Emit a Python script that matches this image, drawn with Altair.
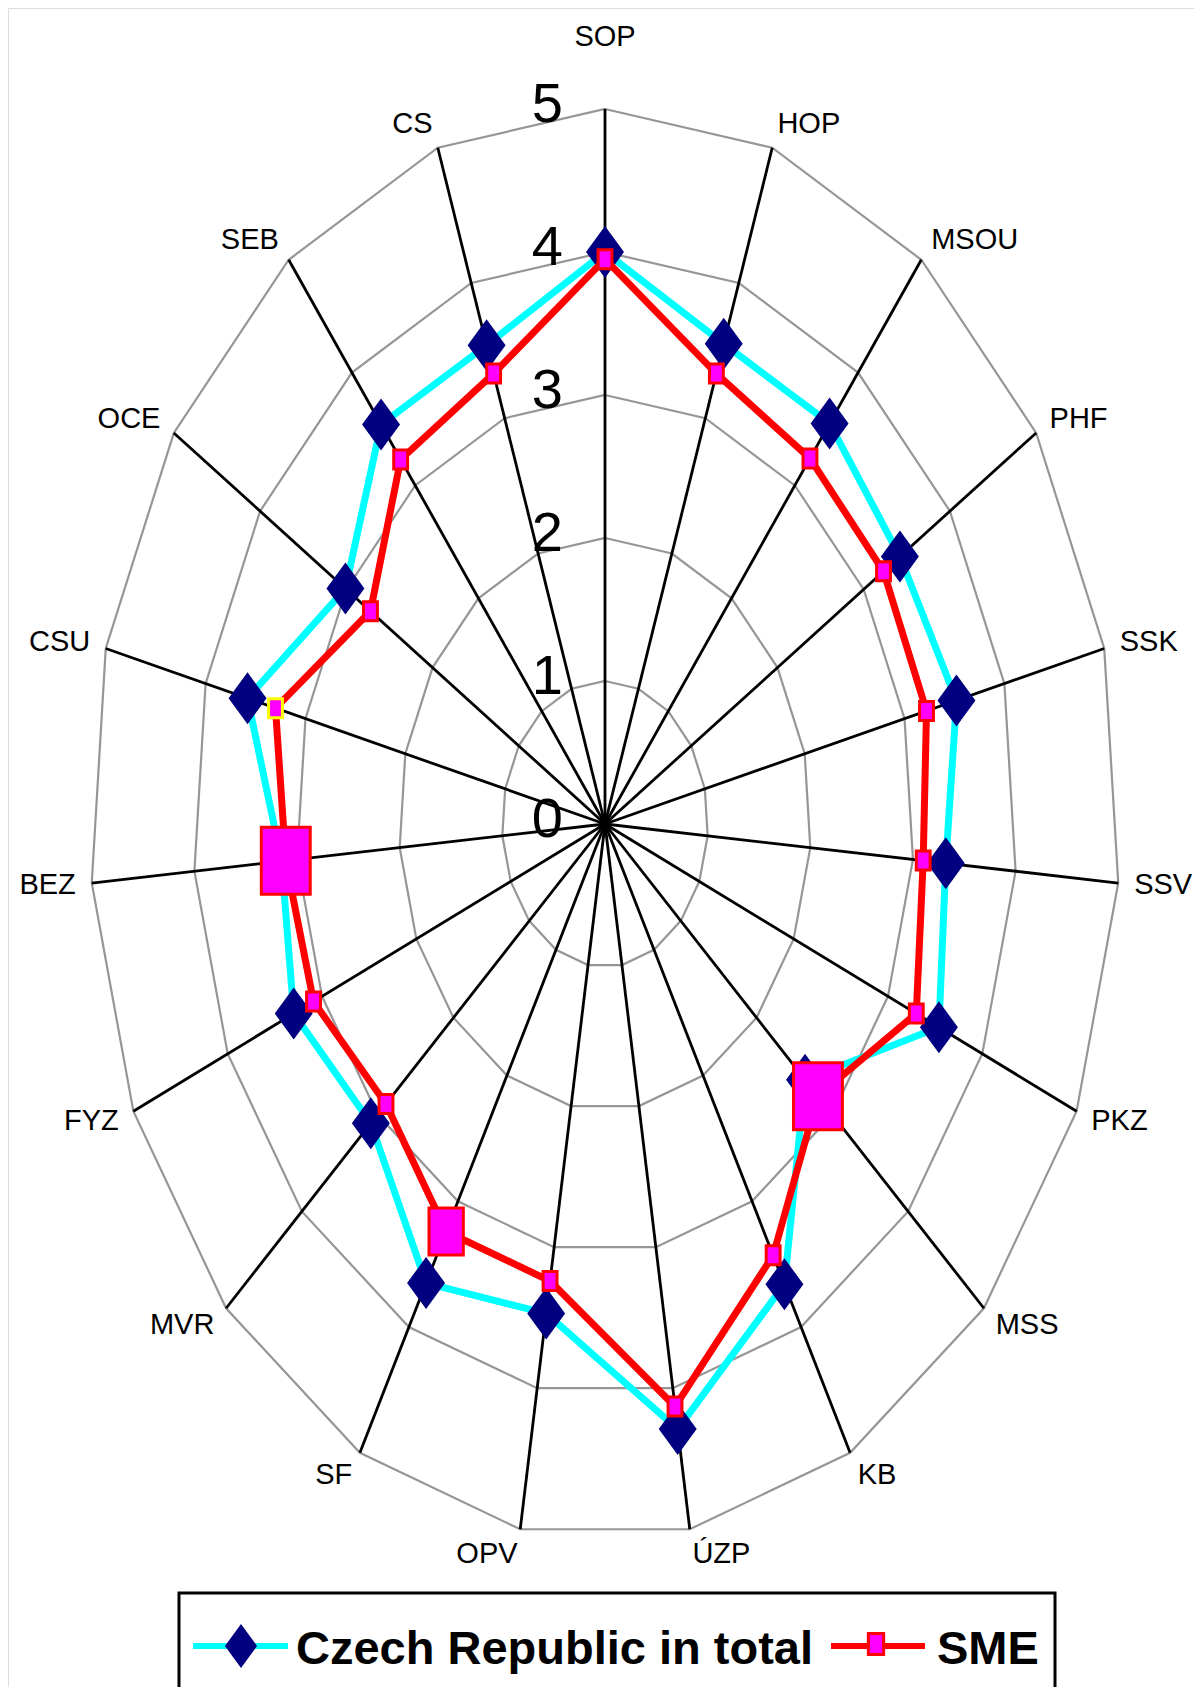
import altair as alt
import pandas as pd

# ---------------- data ----------------
categories = ["SOP", "HOP", "MSOU", "PHF", "SSK", "SSV", "PKZ", "MSS", "KB", "ÚZP",
              "OPV", "SF", "MVR", "FYZ", "BEZ", "CSU", "OCE", "SEB", "CS"]
czech_total = [4.00, 3.55, 3.55, 3.42, 3.52, 3.32, 3.54, 2.64, 3.66, 4.29,
               3.47, 3.65, 3.09, 3.30, 3.15, 3.58, 3.01, 3.54, 3.54]
sme = [3.95, 3.33, 3.24, 3.23, 3.22, 3.10, 3.30, 2.81, 3.43, 4.13,
       3.24, 3.24, 2.89, 3.09, 3.11, 3.30, 2.72, 3.23, 3.33]
series_names = ["Czech Republic in total", "SME"]
ring_levels = [1, 2, 3, 4, 5]
tick_labels = ["0", "1", "2", "3", "4", "5"]

# ---------------- layout / style ----------------
W, H = 1186, 1679
CX, CY = 597.0, 816.0      # centre of the radar in plot pixels
KX, KY = 103.0, 143.0      # pixels per unit, horizontally / vertically
N = len(categories)
RMAX = max(ring_levels)
FONT = "Liberation Sans, Arial, sans-serif"
DIAMOND = "M0,-1L0.73,0L0,1L-0.73,0Z"
RECT = "M-0.73,-1L0.73,-1L0.73,1L-0.73,1Z"
big_markers = {"MSS": 4489, "BEZ": 4489, "SF": 2209}
small_marker = 361

xscale = alt.Scale(domain=[-CX / KX, (W - CX) / KX], nice=False, zero=False)
yscale = alt.Scale(domain=[-(H - CY) / KY, CY / KY], nice=False, zero=False)
TH = f"datum.idx * 2 * PI / {N}"


def X(f):
    return alt.X(f"{f}:Q", scale=xscale, axis=None)


def Y(f):
    return alt.Y(f"{f}:Q", scale=yscale, axis=None)


series_df = pd.DataFrame({
    "axis": categories * 2,
    "idx": list(range(N)) * 2,
    "series": [series_names[0]] * N + [series_names[1]] * N,
    "value": czech_total + sme,
})
ring_df = pd.DataFrame([{"level": l, "idx": i} for l in ring_levels for i in range(N)])
spoke_df = pd.DataFrame({"idx": list(range(N))})
lab_df = pd.DataFrame({"axis": categories, "idx": list(range(N))})
tick_df = pd.DataFrame({"label": tick_labels, "level": [float(t) for t in tick_labels]})

# ---------------- grid ----------------
rings = alt.Chart(ring_df).transform_calculate(
    th=TH, x="datum.level * sin(datum.th)", y="datum.level * cos(datum.th)"
).mark_line(interpolate="linear-closed", color="#969696", strokeWidth=2.2).encode(
    x=X("x"), y=Y("y"), detail="level:N", order="idx:Q")

spokes = alt.Chart(spoke_df).transform_calculate(
    th=TH, x0="0", y0="0",
    xe=f"{RMAX} * sin(datum.th)", ye=f"{RMAX} * cos(datum.th)"
).mark_rule(color="black", strokeWidth=2.8).encode(
    x=X("x0"), y=Y("y0"), x2="xe:Q", y2="ye:Q")

# ---------------- series ----------------
pts = alt.Chart(series_df).transform_calculate(
    th=TH, x="datum.value * sin(datum.th)", y="datum.value * cos(datum.th)")
cz = pts.transform_filter(alt.datum.series == series_names[0])
sm = pts.transform_filter(alt.datum.series == series_names[1])

cz_line = cz.mark_line(interpolate="linear-closed", color="#00FFFF", strokeWidth=7,
                       strokeJoin="round").encode(x=X("x"), y=Y("y"), order="idx:Q")
cz_pts = cz.mark_point(shape=DIAMOND, filled=True, color="#000080", size=2704,
                       opacity=1, strokeWidth=0).encode(x=X("x"), y=Y("y"))
sm_line = sm.mark_line(interpolate="linear-closed", color="#FF0000", strokeWidth=7,
                       strokeJoin="round").encode(x=X("x"), y=Y("y"), order="idx:Q")

size_expr = " : ".join(f"datum.axis === '{k}' ? {v}" for k, v in big_markers.items()) + f" : {small_marker}"
sm_pts = sm.transform_calculate(msize=size_expr).mark_point(
    shape=RECT, filled=True, fill="#FF00FF", strokeWidth=3, opacity=1
).encode(
    x=X("x"), y=Y("y"),
    size=alt.Size("msize:Q", scale=None, legend=None),
    stroke=alt.condition(alt.datum.axis == "CSU", alt.value("#FFFF00"), alt.value("#FF0000")),
)

# ---------------- labels ----------------
GX, GY, TOP_EXTRA = 16.0, 25.0, 47.0
lab = alt.Chart(lab_df).transform_calculate(
    th=TH,
    x=f"({RMAX} + {GX / KX}) * sin(datum.th)",
    y=f"({RMAX} + {GY / KY}) * cos(datum.th) + (datum.idx == 0 ? {TOP_EXTRA / KY} : 0)",
)
lab_kw = dict(font=FONT, fontSize=29, color="black", baseline="middle")
lab_right = lab.transform_filter(f"datum.idx > 0 && datum.idx <= {N // 2}").mark_text(
    align="left", **lab_kw).encode(x=X("x"), y=Y("y"), text="axis:N")
lab_left = lab.transform_filter(f"datum.idx > {N // 2}").mark_text(
    align="right", **lab_kw).encode(x=X("x"), y=Y("y"), text="axis:N")
lab_top = lab.transform_filter("datum.idx == 0").mark_text(
    align="center", **lab_kw).encode(x=X("x"), y=Y("y"), text="axis:N")

ticks = alt.Chart(tick_df).transform_calculate(x0="0").mark_text(
    align="right", baseline="middle", dx=-42, dy=-4, fontSize=56, font=FONT, color="black"
).encode(x=X("x0"), y=Y("level"), text="label:N")

# ---------------- legend ----------------
one = pd.DataFrame({"k": [0]})
leg_box = alt.Chart(one).mark_rect(fill="white", stroke="black", strokeWidth=3).encode(
    x=alt.value(171), x2=alt.value(1047), y=alt.value(1585), y2=alt.value(1730))
leg_cz_line = alt.Chart(one).mark_rule(color="#00FFFF", strokeWidth=6).encode(
    x=alt.value(185), x2=alt.value(280), y=alt.value(1638))
leg_cz_pt = alt.Chart(one).mark_point(shape=DIAMOND, filled=True, color="#000080", size=1936,
                                      opacity=1, strokeWidth=0).encode(
    x=alt.value(233), y=alt.value(1638))
leg_sm_line = alt.Chart(one).mark_rule(color="#FF0000", strokeWidth=6).encode(
    x=alt.value(823), x2=alt.value(917), y=alt.value(1638))
leg_sm_pt = alt.Chart(one).mark_point(shape=RECT, filled=True, fill="#FF00FF", stroke="#FF0000",
                                      strokeWidth=3, size=441, opacity=1).encode(
    x=alt.value(868), y=alt.value(1636))
leg_text_kw = dict(font=FONT, fontSize=47, fontWeight="bold", color="black",
                   align="left", baseline="alphabetic")
leg_cz_txt = alt.Chart(pd.DataFrame({"name": [series_names[0]]})).mark_text(**leg_text_kw).encode(
    x=alt.value(288), y=alt.value(1656), text="name:N")
leg_sm_txt = alt.Chart(pd.DataFrame({"name": [series_names[1]]})).mark_text(**leg_text_kw).encode(
    x=alt.value(929), y=alt.value(1656), text="name:N")

chart = alt.layer(
    rings, spokes, cz_line, cz_pts, sm_line, sm_pts,
    lab_right, lab_left, lab_top, ticks,
    leg_box, leg_cz_line, leg_cz_pt, leg_sm_line, leg_sm_pt, leg_cz_txt, leg_sm_txt,
).properties(
    width=W, height=H, padding=0, autosize=alt.AutoSizeParams(type="none")
).configure_view(strokeWidth=0, stroke="transparent").configure(background="white")

chart.save("out.html", embed_options={"renderer": "svg", "actions": False})
